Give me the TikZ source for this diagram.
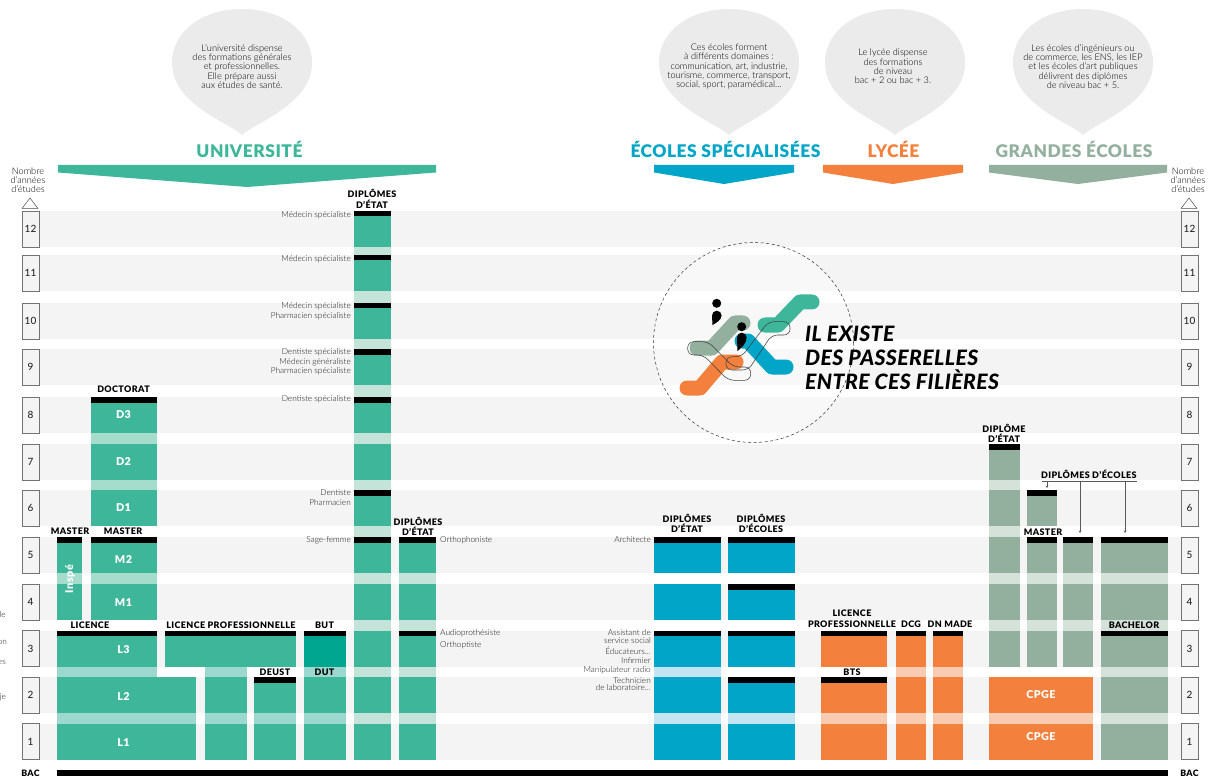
\documentclass[tikz,border=0pt]{standalone}
\usepackage{fontspec}
\usetikzlibrary{arrows.meta}
\setmainfont{Lato}
\newfontfamily\lightf{Lato Light}
\newfontfamily\medf{Lato Medium}
\newfontfamily\blackf[LetterSpace=4]{Lato Black}
\newfontfamily\titlef[LetterSpace=3]{Lato Black}
\newfontfamily\slogan[ItalicFont=* Italic,LetterSpace=2]{Lato Black}
\definecolor{teal}{HTML}{3EB699}
\definecolor{tealdark}{HTML}{00A690}
\definecolor{gapA}{HTML}{9DD8CF}
\definecolor{gapB}{HTML}{C5E4D9}
\definecolor{gapC}{HTML}{A5DCCB}
\definecolor{bleu}{HTML}{00A5C8}
\definecolor{gapbleu}{HTML}{C3E5F1}
\definecolor{orange}{HTML}{F3803C}
\definecolor{gaporange}{HTML}{F9CBB0}
\definecolor{sage}{HTML}{93AF9E}
\definecolor{gapsage}{HTML}{D5E2DA}
\definecolor{bubble}{HTML}{EBEBEB}
\definecolor{band}{HTML}{F4F4F4}
\def\tops{{0,723.5,677,630.5,584,537,490,444,397,349,303,255,211}}
% column: x1,x2,top row,bottom row,fill,gap colour
\newcommand{\colonne}[6]{%
  \foreach \n in {#4,...,#3}{%
    \pgfmathsetmacro\tt{\tops[\n]}%
    \fill[#5] (#1,\tt) rectangle (#2,\tt+36);
    \ifnum\n<#3\relax
      \pgfmathsetmacro\uu{\tops[\n+1]+36}%
      \fill[#6] (#1,\uu) rectangle (#2,\tt);
    \fi
  }%
}
\newcommand{\barre}[3]{%
  \pgfmathsetmacro\tt{\tops[#3]}%
  \fill[black] (#1,\tt) rectangle (#2,\tt+5.5);
}
\newcommand{\tear}[2]{% cx, colour
  \fill[#2] (#1,135) .. controls (#1-14,122) and (#1-70,104) .. (#1-70,63)
    .. controls (#1-70,30) and (#1-38,9) .. (#1,9)
    .. controls (#1+38,9) and (#1+70,30) .. (#1+70,63)
    .. controls (#1+70,104) and (#1+14,122) .. (#1,135) -- cycle;
}
\newcommand{\banner}[4]{% x1,x2,tip y,colour
  \pgfmathsetmacro\mm{(#1+#2)/2}%
  \fill[#4] (#1,165) -- (#2,165) -- (#2,172.5) -- (\mm,#3) -- (#1,172.5) -- cycle;
}
\tikzset{
  x=1pt,y=-1pt,
  lab/.style={inner sep=0pt,align=center,text=black,font=\blackf\fontsize{9}{10.6}\selectfont},
  whitelab/.style={inner sep=0pt,text=white,font=\blackf\fontsize{10.8}{12}\selectfont},
  small/.style={inner sep=0pt,text=black!90,font=\lightf\fontsize{8.25}{9.4}\selectfont},
  bubbletext/.style={inner sep=0pt,align=center,text=black,font=\lightf\fontsize{9.2}{9.35}\selectfont},
  head/.style={inner sep=0pt,font=\titlef\fontsize{17.4}{20}\selectfont},
  nbr/.style={inner sep=0pt,align=center,text=black,font=\lightf\fontsize{9.2}{9}\selectfont},
  yearbox/.style={draw=black!55,line width=.9pt,fill=band,minimum width=17pt,minimum height=36pt,inner sep=0pt,text=black!85,font=\medf\fontsize{10}{11}\selectfont},
  loopline/.style={draw=black!75,line width=.55pt,rounded corners=6pt},
  ramp/.style={line width=15pt,line cap=round,line join=round},
  pointer/.style={draw=black!65,line width=.7pt},
}
\begin{document}
\begin{tikzpicture}
\useasboundingbox (0,0) rectangle (1219,778);
\fill[white] (0,0) rectangle (1219,778);
% rows
\foreach \n in {1,...,12}{
  \pgfmathsetmacro\tt{\tops[\n]}
  \fill[band] (39,\tt) rectangle (1181,\tt+36);
  \node[yearbox] (yl\n) at (30.5,\tt+18) {\n};
  \node[yearbox] (yr\n) at (1189.5,\tt+18) {\n};
}
% triangles
\draw[black!70,line width=.5pt,fill=white] (22,208.5) -- (30,198) -- (38,208.5) -- cycle;
\draw[black!70,line width=.5pt,fill=white] (1181,208.5) -- (1189,198) -- (1197,208.5) -- cycle;
\node[nbr] (nl) at (28,180) {Nombre\\d’années\\d’études};
\node[nbr] (nr) at (1188,180) {Nombre\\d’années\\d’études};
% bubbles
\tear{242}{bubble}
\tear{729}{bubble}
\tear{895}{bubble}
\tear{1083}{bubble}
\node[bubbletext] (t1) at (242,66.5) {L’université dispense\\des formations générales\\et professionnelles.\\Elle prépare aussi\\aux études de santé.};
\node[bubbletext] (t2) at (729,66.5) {Ces écoles forment\\à différents domaines :\\communication, art, industrie,\\tourisme, commerce, transport,\\social, sport, paramédical…};
\node[bubbletext] (t3) at (893,66.5) {Le lycée dispense\\des formations\\de niveau\\bac + 2 ou bac + 3.};
\node[bubbletext] (t4) at (1083,66.5) {Les écoles d’ingénieurs ou\\de commerce, les ENS, les IEP\\et les écoles d’art publiques\\délivrent des diplômes\\de niveau bac + 5.};
% headings
\node[head,text=teal] (h1) at (249.5,149) {UNIVERSITÉ};
\node[head,text=bleu] (h2) at (725.5,149) {ÉCOLES SPÉCIALISÉES};
\node[head,text=orange] (h3) at (893.5,149) {LYCÉE};
\node[head,text=sage] (h4) at (1074,149) {GRANDES ÉCOLES};
\banner{58}{436}{187}{teal}
\banner{654}{794}{184}{bleu}
\banner{823}{963}{184}{orange}
\banner{989}{1167}{184}{sage}
% université
\colonne{90.5}{156.5}{8}{6}{teal}{gapC}
\colonne{90.5}{156.5}{5}{4}{teal}{gapC}
\colonne{57}{82}{5}{4}{teal}{gapC}
\colonne{57}{156.5}{3}{3}{teal}{gapA}
\fill[gapA] (57,667) rectangle (156.5,677);
\colonne{57}{196}{2}{1}{teal}{gapA}
\colonne{165}{296}{3}{3}{teal}{gapA}
\fill[gapA] (205,667) rectangle (247,677);
\colonne{205}{247}{2}{1}{teal}{gapA}
\colonne{254}{296}{2}{1}{teal}{gapA}
\colonne{303.5}{345.5}{3}{1}{teal}{gapA}
\fill[tealdark] (303.5,630.5) rectangle (345.5,667);
\colonne{353.5}{391}{12}{1}{teal}{gapB}
\colonne{398.5}{436}{5}{1}{teal}{gapB}
% écoles spécialisées
\colonne{654}{720.5}{5}{5}{bleu}{gapbleu}
\colonne{654}{720.5}{4}{4}{bleu}{gapbleu}
\colonne{654}{720.5}{3}{1}{bleu}{gapbleu}
\colonne{728}{794.5}{5}{5}{bleu}{gapbleu}
\colonne{728}{794.5}{4}{4}{bleu}{gapbleu}
\colonne{728}{794.5}{3}{3}{bleu}{gapbleu}
\colonne{728}{794.5}{2}{1}{bleu}{gapbleu}
% lycée
\colonne{821}{887}{3}{3}{orange}{gaporange}
\colonne{821}{887}{2}{1}{orange}{gaporange}
\colonne{895.5}{925.5}{3}{1}{orange}{gaporange}
\colonne{933}{963}{3}{1}{orange}{gaporange}
\colonne{989.3}{1093}{2}{1}{orange}{gaporange}
% grandes écoles
\colonne{989.3}{1019.5}{7}{3}{sage}{gapsage}
\colonne{1027}{1056.5}{6}{6}{sage}{gapsage}
\colonne{1027}{1056.5}{5}{3}{sage}{gapsage}
\colonne{1062.5}{1093}{5}{3}{sage}{gapsage}
\colonne{1101}{1167.5}{5}{1}{sage}{gapsage}
% bars
\barre{90.5}{156.5}{8}
\barre{57}{82}{5}
\barre{90.5}{156.5}{5}
\barre{57}{156.5}{3}
\barre{165}{296}{3}
\barre{254}{296}{2}
\barre{303.5}{345.5}{3}
\foreach \n in {12,11,10,9,8,6,5}{\barre{353.5}{391}{\n}}
\barre{398.5}{436}{5}
\barre{398.5}{436}{3}
\barre{654}{720.5}{5}
\barre{654}{720.5}{3}
\foreach \n in {5,4,3,2}{\barre{728}{794.5}{\n}}
\barre{821}{887}{3}
\barre{821}{887}{2}
\barre{895.5}{925.5}{3}
\barre{933}{963}{3}
\barre{989.3}{1019.5}{7}
\barre{1027}{1056.5}{6}
\barre{1027}{1056.5}{5}
\barre{1062.5}{1093}{5}
\barre{1101}{1167.5}{5}
\barre{1101}{1167.5}{3}
\fill[black] (57,770) rectangle (1167.5,776);
% bold labels
\node[lab] (a1) at (372,199) {DIPLÔMES\\D’ÉTAT};
\node[lab] (a2) at (123.5,389.5) {DOCTORAT};
\node[lab] (a3) at (70,531.5) {MASTER};
\node[lab] (a4) at (123,531.5) {MASTER};
\node[lab] (a5) at (90,625.5) {LICENCE};
\node[lab] (a6) at (231,625.5) {LICENCE PROFESSIONNELLE};
\node[lab] (a7) at (324.5,625.5) {BUT};
\node[lab] (a8) at (275,672) {DEUST};
\node[lab] (a9) at (324.5,672) {DUT};
\node[lab] (a10) at (418,526.5) {DIPLÔMES\\D’ÉTAT};
\node[lab] (b1) at (687,523.5) {DIPLÔMES\\D’ÉTAT};
\node[lab] (b2) at (761,523.5) {DIPLÔMES\\D’ÉCOLES};
\node[lab] (c1) at (852,619) {LICENCE\\PROFESSIONNELLE};
\node[lab] (c2) at (911,624.5) {DCG};
\node[lab] (c3) at (950,624.5) {DN MADE};
\node[lab] (c4) at (852,672) {BTS};
\node[lab] (d1) at (1004,433.5) {DIPLÔME\\D’ÉTAT};
\node[lab,anchor=west] (d2) at (1041,474.5) {DIPLÔMES D’ÉCOLES};
\node[lab] (d3) at (1043,532) {MASTER};
\node[lab] (d4) at (1134,625) {BACHELOR};
\node[lab,font=\blackf\fontsize{8.8}{10}\selectfont] (bac1) at (30.5,773) {BAC};
\node[lab,font=\blackf\fontsize{8.8}{10}\selectfont] (bac2) at (1189.5,773) {BAC};
% pointers from DIPLÔMES D'ÉCOLES
\coordinate (u1) at (1042,481);
\coordinate (u2) at (1137,481);
\coordinate (p1a) at (1047,481);
\coordinate (p1b) at (1047,488);
\coordinate (p2a) at (1080,481);
\coordinate (p2b) at (1080,533);
\coordinate (p3a) at (1125,481);
\coordinate (p3b) at (1125,533);
\draw[pointer] (u1) -- (u2);
\draw[pointer,-{Stealth[length=2.5pt,width=2.5pt]}] (p1a) -- (p1b);
\draw[pointer,-{Stealth[length=2.5pt,width=2.5pt]}] (p2a) -- (p2b);
\draw[pointer,-{Stealth[length=2.5pt,width=2.5pt]}] (p3a) -- (p3b);
% white labels
\node[whitelab] (w1) at (123.5,415) {D3};
\node[whitelab] (w2) at (123.5,461.5) {D2};
\node[whitelab] (w3) at (123.5,508) {D1};
\node[whitelab] (w4) at (123.5,559.5) {M2};
\node[whitelab] (w5) at (123.5,602.5) {M1};
\node[whitelab] (w6) at (123.5,650) {L3};
\node[whitelab] (w7) at (123.5,696.5) {L2};
\node[whitelab] (w8) at (123.5,742.5) {L1};
\node[whitelab,rotate=90] (w9) at (70,579) {Inspé};
\node[whitelab] (w10) at (1041,695) {CPGE};
\node[whitelab] (w11) at (1041,737) {CPGE};
% small labels
\foreach \nm/\yy/\tx in {s1/215/Médecin spécialiste,s2/259/Médecin spécialiste,s3/306/Médecin spécialiste,s4/316/Pharmacien spécialiste,s5/352/Dentiste spécialiste,s6/362/Médecin généraliste,s7/371.5/Pharmacien spécialiste,s8/399/Dentiste spécialiste,s9/492.5/Dentiste,s10/502.5/Pharmacien,s11/540/Sage-femme}{
  \node[small,anchor=east] (\nm) at (351,\yy) {\tx};
}
\node[small,anchor=west] (r1) at (440,540) {Orthophoniste};
\node[small,anchor=west] (r2) at (440,633.5) {Audioprothésiste};
\node[small,anchor=west] (r3) at (440,645.5) {Orthoptiste};
\foreach \nm/\yy/\tx in {e1/540/Architecte,e2/633/Assistant de,e3/640.7/service social,e4/651/Éducateurs…,e5/660.5/Infirmier,e6/670.5/Manipulateur radio,e7/680.5/Technicien,e8/688/de laboratoire…}{
  \node[small,anchor=east] (\nm) at (651,\yy) {\tx};
}
\node[small,anchor=east] (f1) at (6,615) {le};
\node[small,anchor=east] (f2) at (7,642) {on};
\node[small,anchor=east] (f3) at (6,662) {es};
\node[small,anchor=east] (f4) at (6,697) {je};
% passerelles
\fill[white,opacity=.4] (753.5,342.5) circle[radius=100];
\draw[black!80,line width=.5pt,dash pattern=on 3pt off 2.5pt] (753.5,342.5) circle[radius=100];
\draw[ramp,color=sage] (697,348) -- (712,348) -- (735,323) -- (743,323);
\draw[ramp,color=teal] (765,325) -- (778,325) -- (800,302) -- (812,302);
\draw[ramp,color=bleu] (742,341) -- (748,341) -- (772,367) -- (786,367);
\draw[ramp,color=orange] (687,388) -- (700,388) -- (722,362) -- (736,362);
\draw[loopline] (687.7,341.7) -- (708.3,341.7) -- (733.3,367) -- (750.7,367) -- (750.7,380.3) -- (728.3,380.3) -- (703.3,355) -- (687.7,355) -- cycle;
\draw[loopline] (726,356.7) -- (741.7,356.7) -- (768.3,321.7) -- (790,321.7) -- (790,335) -- (771.7,335) -- (748.3,370) -- (726,370) -- cycle;
\fill[black] (716.7,303.3) circle[radius=4.5];
\fill[black] (712,315.5) arc[start angle=180,end angle=360,radius=4.8] .. controls (721.5,320) and (716,323) .. (712.5,325) -- cycle;
\fill[black] (741.7,326.7) circle[radius=4.5];
\fill[black] (737,337.5) arc[start angle=180,end angle=360,radius=4.8] .. controls (746.5,344) and (741,348) .. (737.5,351) -- cycle;
\node[inner sep=0pt,anchor=west,align=left,font=\slogan\itshape\fontsize{21.2}{24}\selectfont] (slog) at (805,358) {IL EXISTE\\DES PASSERELLES\\ENTRE CES FILIÈRES};
\end{tikzpicture}
\end{document}
